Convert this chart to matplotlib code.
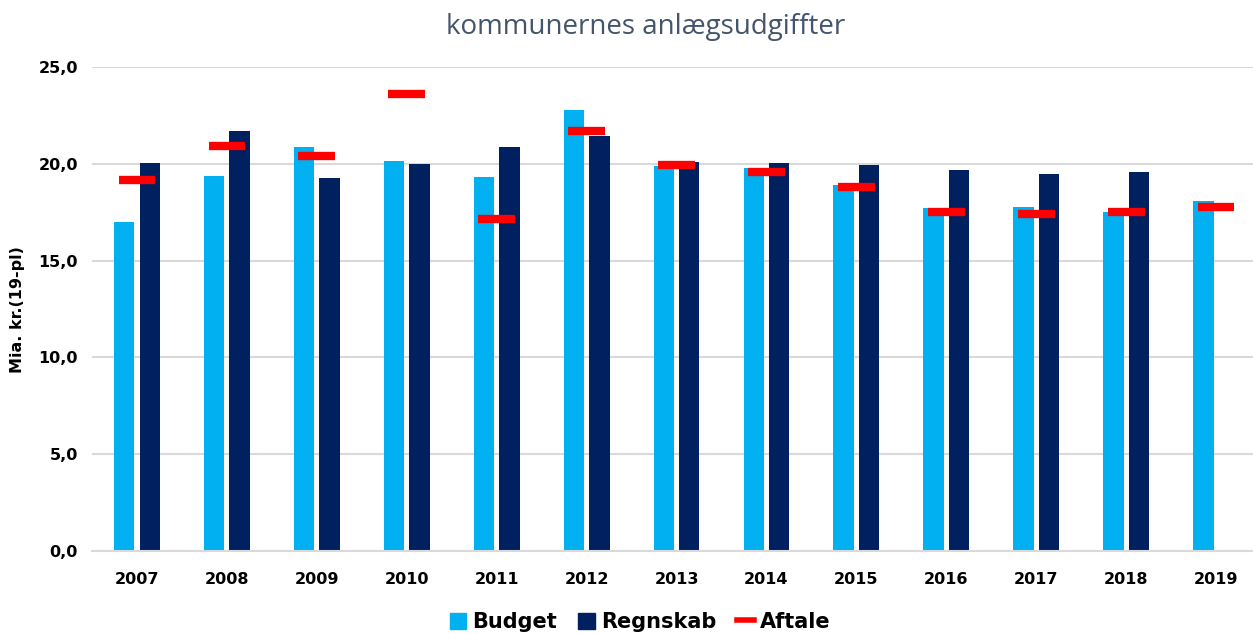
import numpy as np
import matplotlib
matplotlib.use("Agg")
import matplotlib.pyplot as plt
from matplotlib.lines import Line2D
from matplotlib.patches import Patch
from matplotlib.ticker import FuncFormatter

# data (mia. kr., 19-pl)
years = ["2007", "2008", "2009", "2010", "2011", "2012", "2013",
         "2014", "2015", "2016", "2017", "2018", "2019"]
budget = [17.0, 19.4, 20.9, 20.15, 19.35, 22.8, 19.9, 19.8, 18.9, 17.7, 17.8, 17.5, 18.1]
regnskab = [20.05, 21.7, 19.25, 20.0, 20.9, 21.45, 20.1, 20.05, 19.95, 19.7, 19.5, 19.6, np.nan]
aftale = [19.15, 20.95, 20.4, 23.6, 17.15, 21.7, 19.95, 19.6, 18.8, 17.5, 17.4, 17.5, 17.8]

c_budget = "#00B0F0"
c_regnskab = "#002060"
c_aftale = "#FF0000"

fig = plt.figure(figsize=(12.53, 6.34), dpi=100)
ax = fig.add_axes([0.0734, 0.131, 0.9266, 0.763])

x = np.arange(len(years))
w = 0.226
off = 0.142
ax.bar(x - off, budget, width=w, color=c_budget, zorder=2)
ax.bar(x + off, regnskab, width=w, color=c_regnskab, zorder=2)
ax.hlines(aftale, x - 0.204, x + 0.204, colors=c_aftale, linewidth=6, zorder=3)

ax.set_ylim(0, 25)
ax.set_xlim(-0.5, 12.41)
ax.set_yticks(np.arange(0, 26, 5))
ax.yaxis.set_major_formatter(FuncFormatter(lambda v, p: f"{v:.1f}".replace(".", ",")))
ax.set_xticks(x)
ax.set_xticklabels(years)
ax.grid(axis="y", color="#d9d9d9", linewidth=1.5, zorder=0)
ax.set_axisbelow(True)
for s in ["top", "right", "left"]:
    ax.spines[s].set_visible(False)
ax.spines["bottom"].set_color("#d9d9d9")
ax.spines["bottom"].set_linewidth(1.5)
ax.tick_params(length=0, labelsize=11.5)
ax.tick_params(axis="x", pad=15)
ax.tick_params(axis="y", pad=10)
for lab in ax.get_xticklabels() + ax.get_yticklabels():
    lab.set_fontweight("bold")

ax.set_ylabel("Mia. kr.(19-pl)", fontsize=11.5, fontweight="bold", labelpad=10)

fig.text(0.515, 0.957, "kommunernes anlægsudgiffter", ha="center", va="center",
         fontsize=20, color="#44546A", family="Open Sans")

handles = [Patch(color=c_budget), Patch(color=c_regnskab),
           Line2D([0], [0], color=c_aftale, linewidth=4)]
fig.legend(handles, ["Budget", "Regnskab", "Aftale"], loc="center",
           bbox_to_anchor=(0.511, 0.019), ncol=3, frameon=False,
           prop={"weight": "bold", "size": 15}, handlelength=0.8,
           handleheight=0.8, handletextpad=0.3, columnspacing=1.0)

fig.savefig("out.png", dpi=100)
